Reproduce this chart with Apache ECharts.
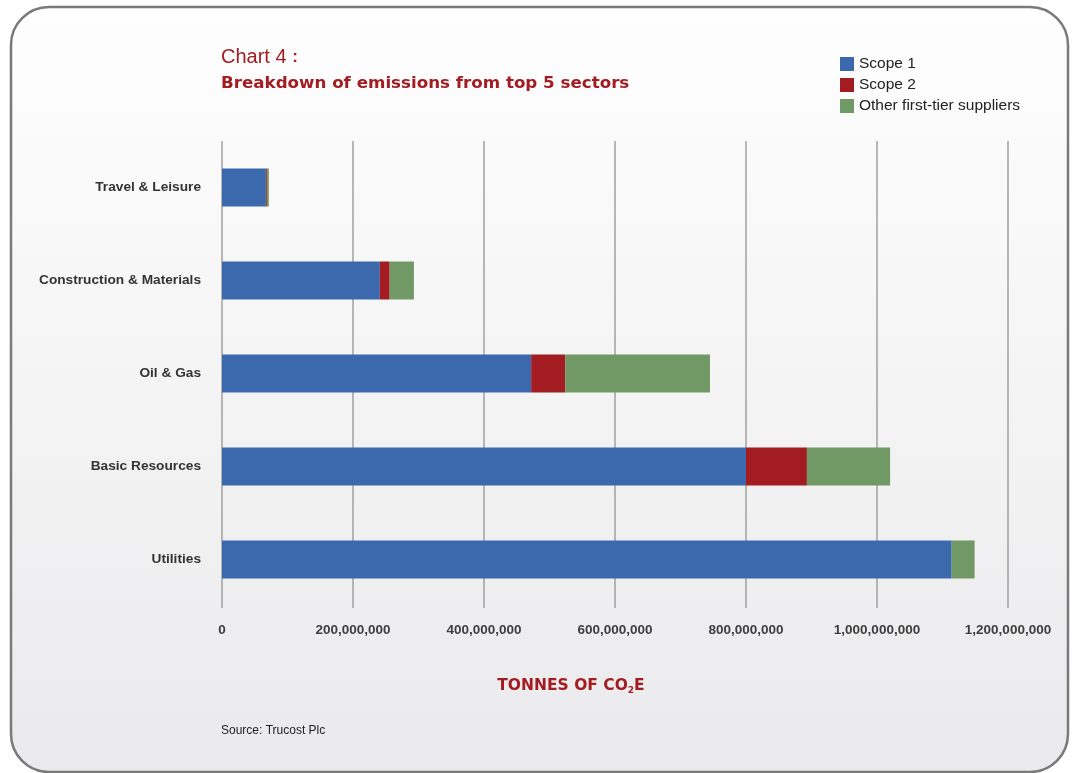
<!DOCTYPE html>
<html>
<head>
<meta charset="utf-8">
<script src="https://cdn.jsdelivr.net/npm/echarts@6/dist/echarts.min.js"></script>
<style>
  html, body { margin: 0; padding: 0; background: #ffffff; }
  #chart { width: 1076px; height: 773px; }
</style>
</head>
<body>
<div id="chart"></div>
<script>
// Sectors, listed top to bottom
const sectors = ['Travel & Leisure', 'Construction & Materials', 'Oil & Gas', 'Basic Resources', 'Utilities'];
// Emissions in tonnes of CO2e
const scope1 = [67e6, 241e6, 472e6, 800e6, 1114e6];
const scope2 = [1.5e6, 15e6, 52e6, 93e6, 0];
const otherSuppliers = [3e6, 37e6, 221e6, 127e6, 35e6];
// Axis ticks
const axisMax = 1200000000;
const axisStep = 200000000;

const RED = '#a21c22';
const fontMain = '"Liberation Sans", Arial, sans-serif';
const fontHeavy = '"DejaVu Sans", sans-serif';

const chart = echarts.init(document.getElementById('chart'), null, { renderer: 'canvas' });

function fmt(v) {
  return v.toString().replace(/\B(?=(\d{3})+(?!\d))/g, ',');
}

const option = {
  backgroundColor: '#ffffff',
  animation: false,
  graphic: [
    {
      type: 'rect',
      z: -10,
      shape: { x: 11, y: 7, width: 1057, height: 765, r: 38 },
      style: {
        fill: new echarts.graphic.LinearGradient(0, 0, 0, 1, [
          { offset: 0, color: '#fefefe' },
          { offset: 1, color: '#eaeaec' }
        ]),
        stroke: '#7a7a7a',
        lineWidth: 2.5
      }
    },
    {
      // axis title with subscript
      type: 'text',
      x: 571,
      y: 686,
      style: {
        text: 'TONNES OF CO{s|2}E',
        fill: RED,
        font: 'bold 15.5px ' + fontHeavy,
        align: 'center',
        verticalAlign: 'middle',
        rich: {
          s: { fontFamily: fontHeavy, fontSize: 9, fontWeight: 'bold', fill: RED, padding: [9, 0, 0, 0] }
        }
      }
    },
    {
      type: 'text',
      left: 221,
      top: 725,
      style: { text: 'Source: Trucost Plc', fill: '#222', font: '12px ' + fontMain }
    }
  ],
  title: [
    {
      text: 'Chart 4 {c|:}',
      left: 216,
      top: 42,
      textStyle: {
        fontFamily: fontMain, fontSize: 20, fontWeight: 'normal', color: RED,
        rich: { c: { fontFamily: fontMain, fontSize: 17, fontWeight: 'bold', color: RED } }
      }
    },
    {
      text: 'Breakdown of emissions from top 5 sectors',
      left: 216,
      top: 70,
      textStyle: { fontFamily: fontHeavy, fontSize: 16.7, fontWeight: 'bold', color: RED }
    }
  ],
  legend: {
    orient: 'vertical',
    left: 835,
    top: 51,
    itemWidth: 14,
    itemHeight: 14,
    itemGap: 5,
    icon: 'rect',
    textStyle: { fontFamily: fontMain, fontSize: 15.5, color: '#222' },
    data: ['Scope 1', 'Scope 2', 'Other first-tier suppliers']
  },
  grid: { left: 222, top: 141, width: 786, height: 465, containLabel: false },
  xAxis: {
    type: 'value',
    min: 0,
    max: axisMax,
    interval: axisStep,
    axisLine: { show: false },
    axisTick: { show: true, length: 2, lineStyle: { color: '#a0a0a0', width: 1.5 } },
    splitLine: { show: true, lineStyle: { color: '#a0a0a0', width: 1.5 } },
    axisLabel: {
      margin: 17,
      fontFamily: fontMain, fontSize: 13.5, fontWeight: 'bold', color: '#3e3e3e',
      formatter: fmt
    }
  },
  yAxis: {
    type: 'category',
    inverse: true,
    data: sectors,
    axisLine: { show: false },
    axisTick: { show: false },
    axisLabel: { margin: 21, fontFamily: fontMain, fontSize: 13.7, fontWeight: 'bold', color: '#333' }
  },
  series: [
    { name: 'Scope 1', type: 'bar', stack: 'total', barWidth: 38, data: scope1, itemStyle: { color: '#3c69ad' } },
    { name: 'Scope 2', type: 'bar', stack: 'total', barWidth: 38, data: scope2, itemStyle: { color: RED } },
    { name: 'Other first-tier suppliers', type: 'bar', stack: 'total', barWidth: 38, data: otherSuppliers, itemStyle: { color: '#719966' } }
  ]
};

chart.setOption(option);
</script>
</body>
</html>
